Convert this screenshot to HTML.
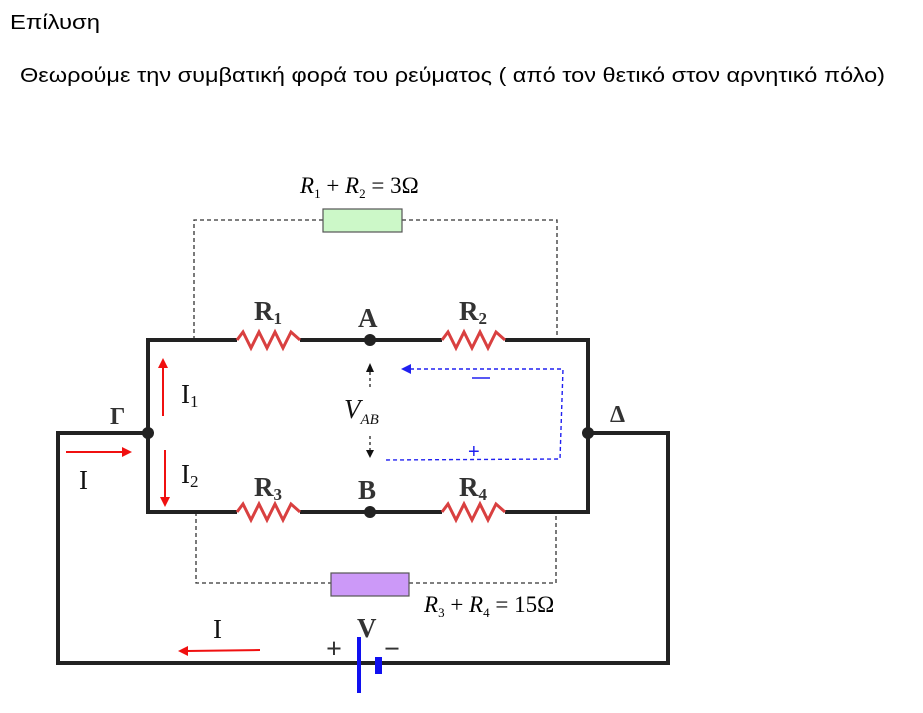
<!DOCTYPE html>
<html><head><meta charset="utf-8"><style>
html,body{margin:0;padding:0;background:#fff;width:923px;height:713px;overflow:hidden}
svg{display:block}
</style></head><body>
<svg width="923" height="713" xmlns="http://www.w3.org/2000/svg" font-family="Liberation Sans, sans-serif">
<text x="10" y="29" font-size="20" textLength="90" lengthAdjust="spacingAndGlyphs">Επίλυση</text>
<text x="20" y="82" font-size="20" textLength="865" lengthAdjust="spacingAndGlyphs">Θεωρούμε την συμβατική φορά του ρεύματος ( από τον θετικό στον αρνητικό πόλο)</text>

<g font-family="Liberation Serif, serif" font-size="23" font-style="italic">
<text x="300" y="193">R<tspan font-size="13" dy="5" font-style="normal">1</tspan><tspan dy="-5" font-style="normal"> + </tspan>R<tspan font-size="13" dy="5" font-style="normal">2</tspan><tspan dy="-5" font-style="normal"> = 3Ω</tspan></text>
<text x="424" y="612">R<tspan font-size="13" dy="5" font-style="normal">3</tspan><tspan dy="-5" font-style="normal"> + </tspan>R<tspan font-size="13" dy="5" font-style="normal">4</tspan><tspan dy="-5" font-style="normal"> = 15Ω</tspan></text>
</g>

<g stroke="#333" stroke-width="1.3" stroke-dasharray="4,3" fill="none">
<polyline points="194,340 194,220 323,220"/><polyline points="402,220 557,220 557,340"/>
<polyline points="196,512 196,583 331,583"/><polyline points="409,583 556,583 556,512"/>
</g>
<rect x="323" y="209" width="79" height="23" fill="#ccf8c8" stroke="#555" stroke-width="1.2"/>
<rect x="331" y="573" width="78" height="23" fill="#cc99f8" stroke="#555" stroke-width="1.2"/>

<g stroke="#222" stroke-width="4" fill="none">
<polyline points="237,340 148,340 148,512 237,512"/>
<line x1="300" y1="340" x2="442" y2="340"/><polyline points="505,340 588,340 588,512 505,512"/>
<line x1="300" y1="512" x2="442" y2="512"/>
<polyline points="148,433 58,433 58,663 668,663 668,433 588,433"/>
</g>
<g stroke="#d94040" stroke-width="3" fill="none">
<polyline points="237,340 243,332 251,348 259,332 267,348 275,332 283,348 291,332 300,340"/>
<polyline points="442,340 448,332 456,348 464,332 472,348 480,332 488,348 496,332 505,340"/>
<polyline points="237,512 243,504 251,520 259,504 267,520 275,504 283,520 291,504 300,512"/>
<polyline points="442,512 448,504 456,520 464,504 472,520 480,504 488,520 496,504 505,512"/>
</g>
<g fill="#222"><circle cx="148" cy="433" r="6"/><circle cx="588" cy="433" r="6"/><circle cx="370" cy="340" r="6"/><circle cx="370" cy="512" r="6"/></g>

<g font-family="Liberation Serif, serif" font-weight="bold" font-size="27" fill="#333">
<text x="254" y="320">R<tspan font-size="17" dy="4">1</tspan></text>
<text x="358" y="327">A</text>
<text x="459" y="320">R<tspan font-size="17" dy="4">2</tspan></text>
<text x="254" y="496">R<tspan font-size="17" dy="4">3</tspan></text>
<text x="358" y="499">B</text>
<text x="459" y="496">R<tspan font-size="17" dy="4">4</tspan></text>
<text x="110" y="424" font-size="24">Γ</text>
<text x="610" y="422" font-size="24">Δ</text>
<text x="357" y="637" font-size="27">V</text>
<text x="326" y="658" font-size="28">+</text>
<text x="384" y="658" font-size="28">−</text>
</g>

<line x1="359" y1="637" x2="359" y2="693" stroke="#1010f0" stroke-width="4"/>
<rect x="375" y="657" width="7" height="17" fill="#1010f0"/>

<g stroke="#f01010" stroke-width="2" fill="#f01010">
<line x1="66" y1="452" x2="124" y2="452"/><polygon points="132,452 122,447 122,457" stroke="none"/>
<line x1="163" y1="416" x2="163" y2="366"/><polygon points="163,358 158,368 168,368" stroke="none"/>
<line x1="165" y1="450" x2="165" y2="499"/><polygon points="165,507 160,497 170,497" stroke="none"/>
<line x1="260" y1="650" x2="186" y2="651"/><polygon points="178,651 188,646 188,656" stroke="none"/>
</g>
<g font-family="Liberation Serif, serif" font-size="27" fill="#111">
<text x="79" y="489">I</text>
<text x="181" y="403">I<tspan font-size="17" dy="4">1</tspan></text>
<text x="181" y="483">I<tspan font-size="17" dy="4">2</tspan></text>
<text x="213" y="638">I</text>
<text x="344" y="418" font-style="italic">V<tspan font-size="15" dy="6">AB</tspan></text>
</g>

<g stroke="#222" stroke-width="1.3" stroke-dasharray="3,3">
<line x1="370" y1="372" x2="370" y2="390"/><line x1="370" y1="436" x2="370" y2="452"/>
</g>
<polygon points="370,363 366,372 374,372" fill="#111"/>
<polygon points="370,458 366,450 374,450" fill="#111"/>

<polyline points="410,369 563,369 560,459 385,460" fill="none" stroke="#2020f0" stroke-width="1.4" stroke-dasharray="4,3"/>
<polygon points="401,369 411,364 411,374" fill="#2020f0"/>
<line x1="472" y1="378" x2="490" y2="378" stroke="#2020f0" stroke-width="1.5"/>
<text x="468" y="458" font-size="20" fill="#2020f0" font-family="Liberation Sans, sans-serif">+</text>
</svg>
</body></html>
